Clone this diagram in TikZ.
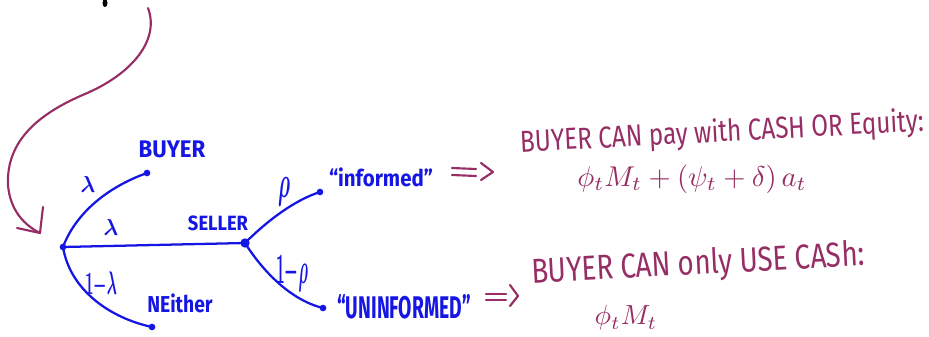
\documentclass[tikz,border=0pt]{standalone}
\usepackage{fontspec}
\setmainfont{Fira Sans}
\usepackage{amsmath}
\usepackage{graphicx}
\definecolor{inkblue}{RGB}{22,22,228}
\definecolor{inkpurple}{RGB}{150,45,100}
\tikzset{
  branch/.style={draw=inkblue, line width=1.7pt, line cap=round},
  dotnode/.style={circle, fill=inkblue, inner sep=0pt, minimum size=5pt},
  lbl/.style={text=inkblue, inner sep=0pt, font=\bfseries},
  note/.style={text=inkpurple, inner sep=0pt},
  ink/.style={draw=inkpurple, line width=1.6pt, line cap=round, line join=round}
}
\begin{document}
\begin{tikzpicture}[x=0.75pt,y=-0.75pt]
\useasboundingbox (0,0) rectangle (929,336);
% tiny black mark at the top
\fill[black] (105,3) ellipse (2.5 and 4);
% purple curved arrow
\coordinate (start) at (148,8);
\coordinate (tip) at (40,233);
\draw[ink] (start) .. controls (160,40) and (132,74) .. (85,94)
  .. controls (40,113) and (6,140) .. (8,185)
  .. controls (10,210) and (24,225) .. (tip);
\draw[ink] (43,207) -- (tip) -- (17,228);
% tree nodes
\node[dotnode] (root) at (63,247) {};
\node[dotnode] (buyer) at (147,173) {};
\node[dotnode, minimum width=7pt] (seller) at (245,243) {};
\node[dotnode] (neither) at (152,327) {};
\node[dotnode] (inf) at (320,192) {};
\node[dotnode] (uninf) at (323,308) {};
% branches
\draw[branch] (root.center) .. controls (75,215) and (105,188) .. (buyer.center);
\draw[branch] (root.center) -- (seller.center);
\draw[branch] (root.center) .. controls (70,290) and (110,318) .. (neither.center);
\draw[branch] (seller.center) .. controls (268,220) and (295,200) .. (inf.center);
\draw[branch] (seller.center) .. controls (262,270) and (290,300) .. (uninf.center);
% branch labels
\node[lbl] (l1) at (88,184) {\resizebox{11pt}{12pt}{$\boldsymbol{\lambda}$}};
\node[lbl] (l2) at (111,227) {\resizebox{11pt}{12pt}{$\boldsymbol{\lambda}$}};
\node[lbl] (l3) at (101,285) {\resizebox{24pt}{17pt}{$\boldsymbol{1{-}\lambda}$}};
\node[lbl] (l4) at (284,192) {\resizebox{9pt}{15pt}{$\boldsymbol{\rho}$}};
\node[lbl] (l5) at (292,274) {\resizebox{24pt}{21pt}{$\boldsymbol{1{-}\rho}$}};
% end labels
\node[lbl] (tbuyer) at (172,149) {\resizebox{50pt}{12.5pt}{BUYER}};
\node[lbl] (tseller) at (218,223) {\resizebox{45pt}{11pt}{SELLER}};
\node[lbl] (tneither) at (180,303) {\resizebox{49pt}{14pt}{NEither}};
\node[lbl] (tinf) at (381,177) {\resizebox{78pt}{14pt}{``informed''}};
\node[lbl] (tuninf) at (404,307) {\resizebox{100pt}{18pt}{``UNINFORMED''}};
% implication arrows
\draw[ink] (452,168) -- (476,169);
\draw[ink] (452,175) -- (476,176);
\draw[ink] (481,163) -- (493,172) -- (481,180);
\draw[ink] (486,294) -- (506,294);
\draw[ink] (486,300) -- (506,300);
\draw[ink] (510,285) -- (518,296) -- (510,306);
% notes
\node[note, rotate=3] (n1) at (722,133) {\scalebox{1}[1.25]{\resizebox{303pt}{!}{BUYER CAN pay with CASH OR Equity:}}};
\node[note] (f1) at (692,179) {\resizebox{172pt}{!}{$\phi_t M_t + (\psi_t + \delta)\, a_t$}};
\node[note, rotate=3] (n2) at (698,265) {\scalebox{1}[1.25]{\resizebox{250pt}{!}{BUYER CAN only USE CASh:}}};
\node[note] (f2) at (626,318) {\resizebox{47pt}{!}{$\phi_t M_t$}};
\end{tikzpicture}
\end{document}
